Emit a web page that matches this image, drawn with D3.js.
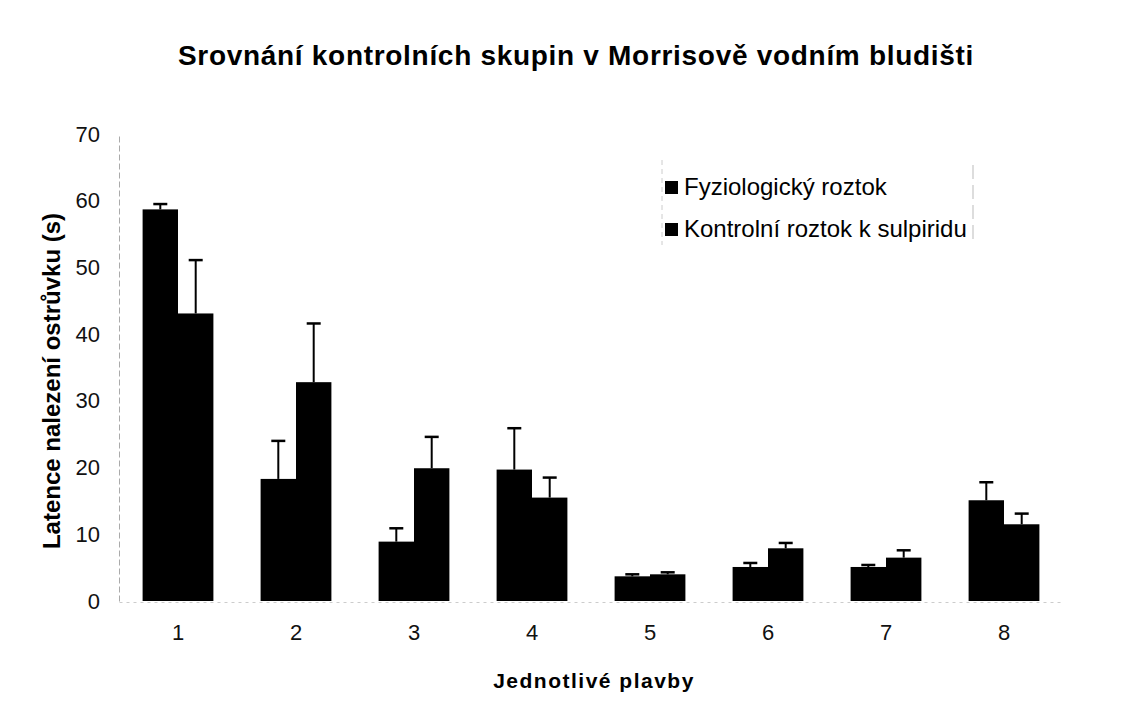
<!DOCTYPE html>
<html>
<head>
<meta charset="utf-8">
<script src="https://cdn.jsdelivr.net/npm/d3@7"></script>
<style>
  body { margin: 0; background: #fff; }
  text { font-family: "Liberation Sans", Arial, sans-serif; }
</style>
</head>
<body>
<div id="chart"></div>
<script>
// data
var runs = ["1", "2", "3", "4", "5", "6", "7", "8"];
var seriesNames = ["Fyziologický roztok", "Kontrolní roztok k sulpiridu"];
var saline = [58.7, 18.3, 8.9, 19.7, 3.7, 5.1, 5.1, 15.1];
var salineErr = [0.8, 5.7, 2.0, 6.2, 0.3, 0.6, 0.3, 2.7];
var control = [43.1, 32.8, 19.9, 15.5, 4.0, 7.9, 6.5, 11.5];
var controlErr = [8.0, 8.8, 4.7, 3.0, 0.3, 0.8, 1.1, 1.6];
var yTicks = [0, 10, 20, 30, 40, 50, 60, 70];

var w = 1130, h = 716;
var plotLeft = 119, plotRight = 1063, plotTop = 134, plotBottom = 601;

var rows = runs.map(function(r, i) {
  return {run: r, vals: [
    {k: 0, v: saline[i], e: salineErr[i]},
    {k: 1, v: control[i], e: controlErr[i]}
  ]};
});

var svg = d3.select("#chart").append("svg")
  .attr("width", w).attr("height", h);

var x0 = d3.scaleBand().domain(runs).range([plotLeft, plotRight]).paddingInner(0.4).paddingOuter(0.2);
var x1 = d3.scaleBand().domain([0, 1]).range([0, x0.bandwidth()]);
var y = d3.scaleLinear().domain([0, 70]).range([plotBottom, plotTop]);

// title
svg.append("text")
  .attr("x", 576).attr("y", 65)
  .attr("text-anchor", "middle")
  .attr("font-size", "28px").attr("font-weight", "bold")
  .attr("letter-spacing", "0.7px")
  .text("Srovnání kontrolních skupin v Morrisově vodním bludišti");

// y axis
var yAxis = d3.axisLeft(y).tickValues(yTicks).tickSize(0).tickPadding(19);
var gy = svg.append("g").attr("transform", "translate(" + plotLeft + ",0)").call(yAxis);
gy.select(".domain").attr("stroke", "#aaa").attr("stroke-dasharray", "6,3");
gy.selectAll("text").attr("font-size", "22px").attr("fill", "#111")
  .attr("font-family", "'Liberation Sans', Arial, sans-serif");

// x axis
var xAxis = d3.axisBottom(x0).tickSize(0).tickPadding(22);
var gx = svg.append("g").attr("transform", "translate(0," + (plotBottom + 1) + ")").call(xAxis);
gx.select(".domain").attr("stroke", "#ccc").attr("stroke-dasharray", "3,4");
gx.selectAll("text").attr("font-size", "22px").attr("fill", "#111")
  .attr("font-family", "'Liberation Sans', Arial, sans-serif");

// bars
var groups = svg.selectAll("g.run")
  .data(rows).enter().append("g")
  .attr("class", "run")
  .attr("transform", function(d) { return "translate(" + x0(d.run) + ",0)"; });

groups.selectAll("rect")
  .data(function(d) { return d.vals; })
  .enter().append("rect")
  .attr("x", function(d) { return x1(d.k); })
  .attr("y", function(d) { return y(d.v); })
  .attr("width", x1.bandwidth())
  .attr("height", function(d) { return y(0) - y(d.v); })
  .attr("fill", "#000");

// error bars
var err = groups.selectAll("g.err")
  .data(function(d) { return d.vals; })
  .enter().append("g").attr("class", "err");

err.append("line")
  .attr("x1", function(d) { return x1(d.k) + x1.bandwidth() / 2; })
  .attr("x2", function(d) { return x1(d.k) + x1.bandwidth() / 2; })
  .attr("y1", function(d) { return y(d.v); })
  .attr("y2", function(d) { return y(d.v + d.e); })
  .attr("stroke", "#000").attr("stroke-width", 2);

err.append("line")
  .attr("x1", function(d) { return x1(d.k) + x1.bandwidth() / 2 - 7; })
  .attr("x2", function(d) { return x1(d.k) + x1.bandwidth() / 2 + 7; })
  .attr("y1", function(d) { return y(d.v + d.e); })
  .attr("y2", function(d) { return y(d.v + d.e); })
  .attr("stroke", "#000").attr("stroke-width", 2.5);

// axis titles
svg.append("text")
  .attr("transform", "translate(60,381) rotate(-90)")
  .attr("text-anchor", "middle")
  .attr("font-size", "24px").attr("font-weight", "bold")
  .text("Latence nalezení ostrůvku (s)");

svg.append("text")
  .attr("x", 594).attr("y", 688)
  .attr("text-anchor", "middle")
  .attr("font-size", "21px").attr("font-weight", "bold")
  .attr("letter-spacing", "1.5px")
  .text("Jednotlivé plavby");

// legend
var legend = svg.append("g").attr("transform", "translate(662,160)");
legend.append("line").attr("x1", 0).attr("x2", 0).attr("y1", 0).attr("y2", 85)
  .attr("stroke", "#ccc").attr("stroke-dasharray", "5,4");
legend.append("line").attr("x1", 311).attr("x2", 311).attr("y1", 5).attr("y2", 85)
  .attr("stroke", "#bbb").attr("stroke-dasharray", "14,6");

var li = legend.selectAll("g.item")
  .data(seriesNames).enter().append("g")
  .attr("class", "item")
  .attr("transform", function(d, i) { return "translate(0," + (35 + i * 42) + ")"; });

li.append("rect")
  .attr("x", 3).attr("y", -14).attr("width", 13).attr("height", 13)
  .attr("fill", "#000");

li.append("text")
  .attr("x", 22).attr("y", 0)
  .attr("font-size", "24px")
  .text(function(d) { return d; });
</script>
</body>
</html>
